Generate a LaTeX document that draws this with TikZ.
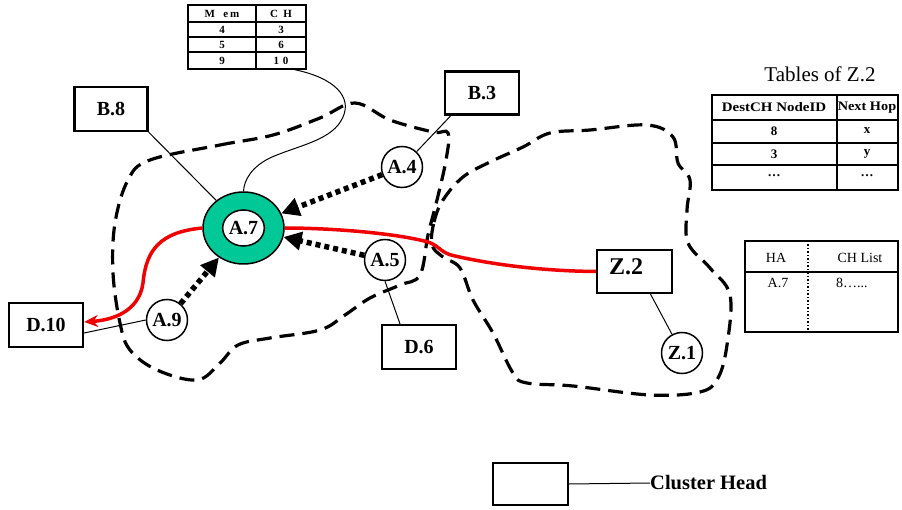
\documentclass[tikz,border=0pt]{standalone}
\usepackage{fontspec}
\setmainfont{Liberation Serif}
\usetikzlibrary{arrows.meta,shapes.geometric}
\definecolor{chgreen}{RGB}{0,200,150}
\definecolor{routered}{RGB}{240,0,0}
\tikzset{
  chbox/.style={draw, line width=2.2pt, minimum width=74pt, minimum height=43pt, inner sep=0pt, font=\fontsize{20}{22}\selectfont\bfseries},
  mnode/.style={circle, draw, line width=1.5pt, minimum size=41pt, inner sep=0pt, fill=white, font=\fontsize{20}{22}\selectfont\bfseries},
  thinline/.style={line width=1pt},
  cluster/.style={line width=3.2pt, dash pattern=on 15pt off 8pt},
  dotarrow/.style={line width=5.5pt, dash pattern=on 5pt off 4pt, -{Triangle[length=18pt,width=18pt]}},
  redline/.style={draw=routered, line width=3.5pt},
  tabline/.style={line width=1.4pt},
  tabtxt/.style={inner sep=0pt, font=\fontsize{11}{12}\selectfont\bfseries},
  ztxt/.style={inner sep=0pt, font=\fontsize{13}{14}\selectfont\bfseries},
  hatxt/.style={inner sep=0pt, font=\fontsize{14}{15}\selectfont},
}
\begin{document}
\begin{tikzpicture}[x=1pt,y=-1pt]
\useasboundingbox (0,0) rectangle (902,510);

% clusters
\draw[cluster] plot[smooth cycle, tension=0.6] coordinates {
 (150,160) (220,145) (273,135) (320,118) (355,103) (390,120) (433,132) (448,133)
 (446,160) (437,200) (428,235) (420,275) (400,285) (370,298) (345,315) (320,330)
 (270,338) (238,345) (220,363) (197,380) (157,370) (130,350) (120,323) (113,273)
 (115,223) (128,180)};
\draw[cluster] plot[smooth cycle, tension=0.6] coordinates {
 (432,245) (434,222) (443,200) (463,177) (490,162) (523,147) (550,133) (590,130)
 (647,125) (673,137) (678,163) (690,180) (687,210) (688,243) (710,268) (730,295)
 (727,345) (718,378) (700,392) (650,395) (573,386) (527,383) (513,373) (493,333)
 (473,300) (460,268) (443,257)};

% Mem/CH table
\node[draw, tabline, minimum width=118pt, minimum height=64pt, inner sep=0pt] (mem) at (247,37) {};
\draw[tabline] (256,5) -- (256,69);
\draw[tabline] (188,22) -- (306,22);
\draw[tabline] (188,37) -- (306,37);
\draw[tabline] (188,52) -- (306,52);
\node[tabtxt] (m0) at (222,14) {M\ \ \ e\,m};
\node[tabtxt] (c0) at (281,14) {C\ \ H};
\node[tabtxt] (m1) at (222,30) {4};
\node[tabtxt] (c1) at (281,30) {3};
\node[tabtxt] (m2) at (222,45) {5};
\node[tabtxt] (c2) at (281,45) {6};
\node[tabtxt] (m3) at (222,61) {9};
\node[tabtxt] (c3) at (281,61) {1\,\,0};

% Tables of Z.2
\node[inner sep=0pt, font=\fontsize{21}{23}\selectfont] (ztitle) at (820,74) {Tables of Z.2};
\node[draw, tabline, minimum width=186pt, minimum height=95pt, inner sep=0pt] (ztab) at (805,142.5) {};
\draw[tabline] (837,95) -- (837,190);
\draw[tabline] (712,120) -- (898,120);
\draw[tabline] (712,143) -- (898,143);
\draw[tabline] (712,165) -- (898,165);
\node[ztxt, xscale=1.15] (zh1) at (774,107.5) {DestCH NodeID};
\node[ztxt, xscale=1.1] (zh2) at (867,107.5) {Next Hop};
\node[ztxt] (z11) at (774,131) {8};
\node[ztxt] (z12) at (867,131) {x};
\node[ztxt] (z21) at (774,154) {3};
\node[ztxt] (z22) at (867,154) {y};
\node[ztxt] (z31) at (774,176) {\dots};
\node[ztxt] (z32) at (867,176) {\dots};

% HA table
\node[draw, tabline, minimum width=153pt, minimum height=91pt, inner sep=0pt] (hatab) at (821.5,286.5) {};
\draw[tabline] (745,272) -- (898,272);
\draw[line width=1.5pt, dotted] (808,241) -- (808,332);
\node[hatxt] (ha1) at (776,258) {HA};
\node[hatxt] (ha2) at (860,258) {CH List};
\node[hatxt] (ha3) at (778,283) {A.7};
\node[hatxt, anchor=west] (ha4) at (836,283) {8\dots...};

% cluster head boxes
\node[chbox, minimum width=73pt, minimum height=44pt] (b8) at (111,109) {B.8};
\node[chbox] (b3) at (482,93) {B.3};
\node[chbox, minimum height=44pt] (d6) at (419,347) {D.6};
\node[chbox, minimum height=44pt] (d10) at (46,325) {D.10};
\node[chbox, minimum width=75pt] (z2) at (634.5,271.5) {};
\node[inner sep=0pt, font=\fontsize{24}{26}\selectfont\bfseries] (z2t) at (626,267) {Z.2};

% A.7
\node[ellipse, draw, line width=1.5pt, fill=chgreen, minimum width=81pt, minimum height=72pt, inner sep=0pt] (a7) at (243.5,228) {};
\node[ellipse, draw, line width=1.5pt, fill=white, minimum width=41pt, minimum height=36pt, inner sep=0pt, font=\fontsize{20}{22}\selectfont\bfseries] (a7i) at (243.5,228) {A.7};

% members
\node[mnode] (a4) at (402,167) {A.4};
\node[mnode] (a5) at (385,260) {A.5};
\node[mnode] (a9) at (167,320) {A.9};
\node[mnode] (z1) at (682,353) {Z.1};

% thin connectors
\draw[thinline] (b8.south east) -- (a7);
\draw[thinline] ([xshift=7pt]b3.south west) -- (a4);
\draw[thinline] (a5.south) -- ([xshift=-19pt]d6.north);
\draw[thinline] (a9.west) -- ([yshift=-8pt]d10.east);
\draw[thinline] ([xshift=16pt]z2.south) -- (z1);
\draw[thinline] ([xshift=-12pt]mem.south east) .. controls (335,78) and (352,97) .. (343,117)
  .. controls (333,140) and (300,145) .. (272,157) .. controls (252,166) and (244,180) .. (a7.north);

% red routes
\draw[redline] (a7.east) .. controls (330,228) and (395,233) .. (428,242)
  .. controls (440,246) and (440,253) .. (455,256) .. controls (490,264) and (540,271) .. (z2.west);
\draw[redline, -{Stealth[length=14pt,width=12pt]}] (a7.west) .. controls (160,232) and (146,250) .. (143,283)
  .. controls (139,312) and (112,320) .. ([yshift=3pt]d10.east);

% dotted arrows
\draw[dotarrow] (a4) -- (a7);
\draw[dotarrow] (a5) -- (a7);
\draw[dotarrow] (a9) -- (a7);

% legend
\node[chbox, minimum width=75pt, minimum height=42pt] (leg) at (530.5,484) {};
\node[inner sep=0pt, anchor=west, font=\fontsize{20.5}{22}\selectfont\bfseries] (legt) at (650,483) {Cluster Head};
\draw[thinline] (leg.east) -- (legt.west);
\end{tikzpicture}
\end{document}
